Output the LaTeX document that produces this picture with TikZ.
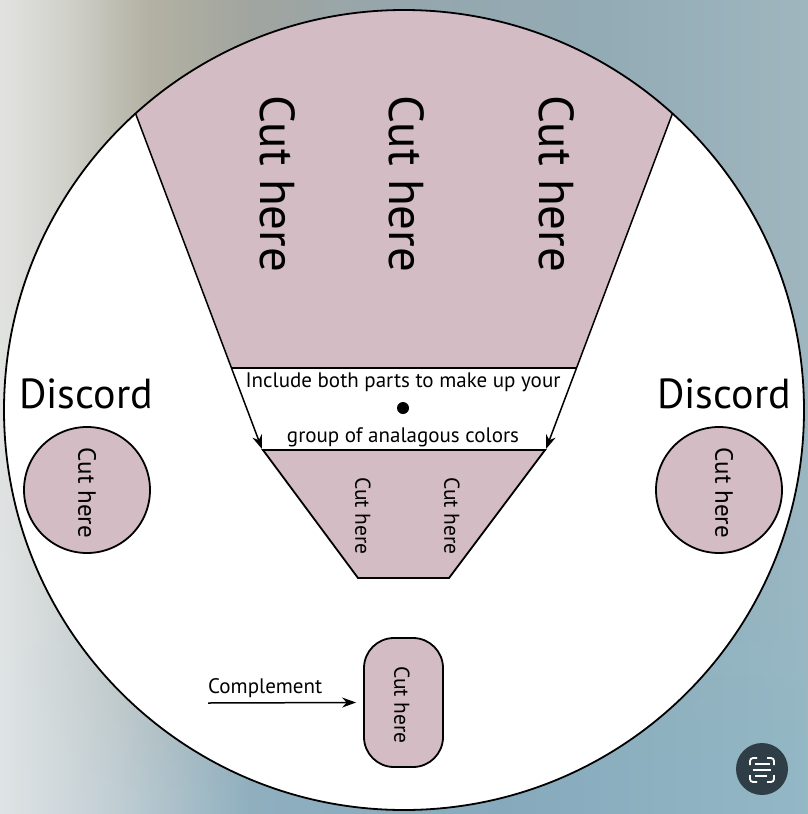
\documentclass[tikz,border=0pt]{standalone}
\usepackage{fontspec}
\setmainfont{PT Sans}
\usetikzlibrary{arrows.meta,fadings,calc}
\definecolor{pinkc}{HTML}{D3BCC4}
\definecolor{btn}{HTML}{2F3E46}
\definecolor{ta}{HTML}{E2E3E1}
\definecolor{tb}{HTML}{D2D3CC}
\definecolor{tc}{HTML}{B3B1A3}
\definecolor{td}{HTML}{A1A59F}
\definecolor{te}{HTML}{95A6AD}
\definecolor{tf}{HTML}{93ABB5}
\definecolor{tg}{HTML}{9FB6BF}
\definecolor{ba}{HTML}{DFE4E6}
\definecolor{bb}{HTML}{C0CED4}
\definecolor{bc}{HTML}{8FB0C0}
\definecolor{bd}{HTML}{86ABBD}
\definecolor{be}{HTML}{93B8C6}
\pgfdeclarehorizontalshading{bgtop}{100bp}{color(0bp)=(ta); color(25bp)=(ta); color(28.7bp)=(tb); color(34.3bp)=(tc); color(40.5bp)=(td); color(49.8bp)=(te); color(62.1bp)=(tf); color(75bp)=(tg); color(100bp)=(tg)}
\pgfdeclarehorizontalshading{bgbot}{100bp}{color(0bp)=(ba); color(25bp)=(ba); color(32.4bp)=(bb); color(40.5bp)=(bc); color(56bp)=(bd); color(75bp)=(be); color(100bp)=(be)}
\newcommand\fbig{\fontsize{49}{53}\selectfont}
\newcommand\fdis{\fontsize{42}{46}\selectfont}
\newcommand\fmid{\fontsize{25}{29}\selectfont}
\newcommand\fsm{\fontsize{21.5}{25}\selectfont}
\newcommand\flab{\fontsize{21}{24}\selectfont}
\tikzset{
  outl/.style={line width=1.8pt, draw=black},
  pinkshape/.style={outl, fill=pinkc},
  cutv/.style={rotate=-90, inner sep=0pt},
  arr/.style={line width=1.5pt, -{Stealth[length=14pt,width=10pt]}}
}
\begin{document}
\begin{tikzpicture}[x=1pt,y=-1pt]
\useasboundingbox (0,0) rectangle (808,814);
% background
\shade[shading=bgtop] (0,0) rectangle (808,814);
\shade[shading=bgbot, path fading=north] (0,300) rectangle (808,814);
% big circle
\fill[white] (404,410) circle[radius=400pt];
\begin{scope}
  \clip (404,410) circle[radius=400pt];
  \fill[pinkc] (92.7,0) -- (231.8,368) -- (576.2,368) -- (715.3,0) -- cycle;
\end{scope}
\node[circle, outl, minimum size=800pt, inner sep=0pt] (big) at (404,410) {};
% wedge lines
\coordinate (L1) at (135.5,113.4);
\coordinate (L2) at (262,449);
\coordinate (R1) at (672.5,113.4);
\coordinate (R2) at (546,449);
\coordinate (H1) at (231.8,368);
\coordinate (H2) at (576.2,368);
\draw[outl] (H1) -- (H2);
\draw[arr] (L1) -- (L2);
\draw[arr] (R1) -- (R2);
% lower trapezoid
\coordinate (T1) at (263,450);
\coordinate (T2) at (358,578);
\coordinate (T3) at (449,578);
\coordinate (T4) at (545,450);
\draw[pinkshape] (T1) -- (T2) -- (T3) -- (T4) -- cycle;
% big cut texts
\node[cutv, font=\fbig] (c1) at (278,184) {Cut here};
\node[cutv, font=\fbig] (c2) at (407,184) {Cut here};
\node[cutv, font=\fbig] (c3) at (557,184) {Cut here};
% middle band
\node[font=\flab] (inc) at (403,382) {Include both parts to make up your};
\node[circle, fill=black, inner sep=0pt, minimum size=12pt] (dot) at (403,408) {};
\node[font=\flab] (grp) at (403,437) {group of analagous colors};
% lower cut texts
\node[cutv, font=\fsm] (c4) at (363,516) {Cut here};
\node[cutv, font=\fsm] (c5) at (452,516) {Cut here};
% discord
\node[font=\fdis] (d1) at (86,394) {Discord};
\node[font=\fdis] (d2) at (724,394) {Discord};
\node[circle, pinkshape, minimum size=126pt, inner sep=0pt] (dc1) at (87,490) {};
\node[circle, pinkshape, minimum size=126pt, inner sep=0pt] (dc2) at (719,490) {};
\node[cutv, font=\fmid] (c6) at (87,493) {Cut here};
\node[cutv, font=\fmid] (c7) at (724,493) {Cut here};
% complement
\node[pinkshape, rounded corners=30pt, minimum width=79pt, minimum height=129pt, inner sep=0pt] (cr) at (403.5,702.5) {};
\node[cutv, font=\fsm] (c8) at (402,705) {Cut here};
\node[font=\flab, anchor=south west, inner sep=0pt] (comp) at (208,698) {Complement};
\coordinate (cs) at (208,703);
\draw[arr] (cs) -- ([xshift=-7pt]cr.west);
% live text button
\node[circle, fill=btn, minimum size=52pt, inner sep=0pt] (btn) at (762,769) {};
\begin{scope}[white, line width=1.8pt, rounded corners=3pt]
  \draw (750,765) |- (757,758);
  \draw (767,758) -| (774,765);
  \draw (774,775) |- (767,782);
  \draw (757,782) -| (750,775);
  \draw[sharp corners] (755,764) -- (770,764);
  \draw[sharp corners] (753,770) -- (771,770);
  \draw[sharp corners] (755,776) -- (767,776);
\end{scope}
\end{tikzpicture}
\end{document}
